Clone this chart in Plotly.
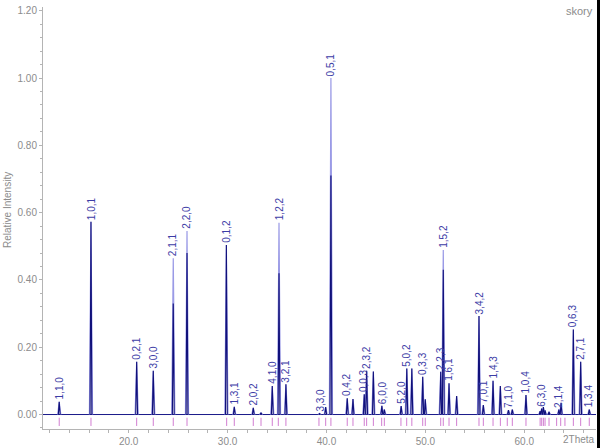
import plotly.graph_objects as go

# ---- data ----
peak_pos = [12.98, 16.19, 20.81, 22.49, 24.51, 25.90, 29.88, 30.68, 32.60, 33.38,
            34.52, 35.20, 35.90, 39.30, 39.92, 40.45, 42.10, 42.68, 43.82, 44.06,
            44.74, 45.60, 45.85, 47.55, 48.12, 48.63, 49.73, 49.99, 51.55, 51.81,
            52.39, 53.16, 55.42, 55.86, 56.84, 57.58, 58.40, 58.79, 60.17, 61.60,
            61.76, 61.93, 62.10, 62.50, 63.50, 63.72, 64.96, 65.70, 66.57]
peak_h = [0.038, 0.573, 0.157, 0.130, 0.464, 0.545, 0.504, 0.023, 0.020, 0.005,
          0.085, 0.570, 0.090, 0.003, 0.022, 1.000, 0.048, 0.046, 0.060, 0.130,
          0.128, 0.026, 0.015, 0.025, 0.137, 0.137, 0.112, 0.045, 0.127, 0.489,
          0.093, 0.055, 0.293, 0.028, 0.100, 0.085, 0.013, 0.015, 0.058, 0.010,
          0.018, 0.022, 0.012, 0.008, 0.015, 0.035, 0.253, 0.157, 0.015]
calc_h = [0.038, 0.573, 0.157, 0.130, 0.330, 0.480, 0.504, 0.023, 0.020, 0.005,
          0.085, 0.420, 0.090, 0.003, 0.022, 0.710, 0.048, 0.046, 0.060, 0.130,
          0.128, 0.026, 0.015, 0.025, 0.137, 0.137, 0.112, 0.045, 0.127, 0.430,
          0.093, 0.055, 0.293, 0.028, 0.100, 0.085, 0.013, 0.015, 0.058, 0.010,
          0.018, 0.022, 0.012, 0.008, 0.015, 0.035, 0.253, 0.157, 0.015]
peak_label = ["1,1,0", "1,0,1", "0,2,1", "3,0,0", "2,1,1", "2,2,0", "0,1,2", "1,3,1", "2,0,2", "",
              "4,1,0", "1,2,2", "3,2,1", "3,3,0", "", "0,5,1", "0,4,2", "", "0,0,3", "2,3,2",
              "", "6,0,0", "", "5,2,0", "5,0,2", "", "0,3,3", "", "2,2,3", "1,5,2",
              "1,6,1", "", "3,4,2", "7,0,1", "1,4,3", "", "7,1,0", "", "1,0,4", "",
              "6,3,0", "", "", "", "2,1,4", "", "0,6,3", "2,7,1", "1,3,4"]
bragg_pos = [12.98, 16.19, 20.81, 22.49, 24.51, 25.90, 29.91, 30.68, 32.60, 33.38,
             34.52, 35.13, 35.90, 39.24, 39.92, 40.45, 42.10, 42.68, 43.82, 44.06,
             44.74, 45.58, 45.85, 47.53, 48.11, 48.63, 49.73, 49.99, 51.55, 51.81,
             52.39, 53.16, 55.42, 55.86, 56.84, 57.58, 58.28, 58.79, 60.17, 61.60,
             61.76, 61.93, 62.10, 62.50, 63.27, 63.68, 64.11, 64.96, 65.70, 66.57]

x_min, x_max = 11.34, 67.25
y_min, y_max = -0.043, 1.211

def triangles(pos, h, w):
    xs, ys = [], []
    for p, v in zip(pos, h):
        xs += [p - w, p, p + w, None]
        ys += [0, v, 0, None]
    return xs, ys

fig = go.Figure()

# baseline
fig.add_trace(go.Scatter(x=[x_min, x_max], y=[0, 0], mode="lines",
                         line=dict(color="#1a1a8a", width=1), hoverinfo="skip"))
# light (observed) profile
lx, ly = triangles(peak_pos, peak_h, 0.16)
fig.add_trace(go.Scatter(x=lx, y=ly, mode="lines",
                         line=dict(color="#9a9ae6", width=1.2), hoverinfo="skip"))
# dark (calculated) profile
dx, dy = triangles(peak_pos, calc_h, 0.09)
fig.add_trace(go.Scatter(x=dx, y=dy, mode="lines",
                         line=dict(color="#10107a", width=1.1), hoverinfo="skip"))
# Bragg ticks
bx, by = [], []
for p in bragg_pos:
    bx += [p, p, None]
    by += [-0.0095, -0.034, None]
fig.add_trace(go.Scatter(x=bx, y=by, mode="lines",
                         line=dict(color="#d27ed2", width=1), hoverinfo="skip"))

annotations = []
for p, v, t in zip(peak_pos, peak_h, peak_label):
    if t:
        annotations.append(dict(x=p, y=v, xref="x", yref="y", text=t, showarrow=False,
                                textangle=-90, xanchor="center", yanchor="bottom",
                                yshift=1, borderpad=0,
                                font=dict(family="Liberation Sans", size=10, color="#3c3ca6")))

gray = "#8c8c8c"
annotations.append(dict(x=-0.0633, y=0.519, xref="paper", yref="paper", text="Relative Intensity",
                        showarrow=False, textangle=-90, xanchor="center", yanchor="middle",
                        font=dict(family="Liberation Sans", size=10, color=gray)))
annotations.append(dict(x=1.0, y=-0.0237, xref="paper", yref="paper", text="2Theta",
                        showarrow=False, xanchor="right", yanchor="middle", borderpad=0,
                        font=dict(family="Liberation Sans", size=10, color=gray)))
annotations.append(dict(x=0.998, y=0.9905, xref="paper", yref="paper", text="skory",
                        showarrow=False, xanchor="right", yanchor="middle",
                        font=dict(family="Liberation Sans", size=11, color=gray)))

fig.update_layout(
    width=597, height=448,
    margin=dict(l=43, r=1, t=7, b=19),
    paper_bgcolor="white", plot_bgcolor="white",
    showlegend=False,
    annotations=annotations,
    font=dict(family="Liberation Sans", size=10, color=gray),
    xaxis=dict(range=[x_min, x_max], showgrid=False, zeroline=False,
               showline=True, linecolor="#b4b4b4", linewidth=1,
               ticks="outside", ticklen=3, tickcolor="#b4b4b4",
               tick0=0, dtick=10, tickformat=".1f",
               tickfont=dict(family="Liberation Sans", size=10, color=gray),
               minor=dict(dtick=2, tick0=0, ticks="outside", ticklen=3, tickcolor="#b4b4b4")),
    yaxis=dict(range=[y_min, y_max], showgrid=False, zeroline=False,
               showline=True, linecolor="#b4b4b4", linewidth=1,
               ticks="outside", ticklen=3, tickcolor="#b4b4b4",
               tick0=0, dtick=0.2, tickformat=".2f",
               tickfont=dict(family="Liberation Sans", size=10, color=gray),
               minor=dict(dtick=0.04, tick0=0, ticks="outside", ticklen=2, tickcolor="#b4b4b4")),
)

fig.write_html("out.html",
               post_script="document.body.style.margin='0';document.body.style.background='black';")
